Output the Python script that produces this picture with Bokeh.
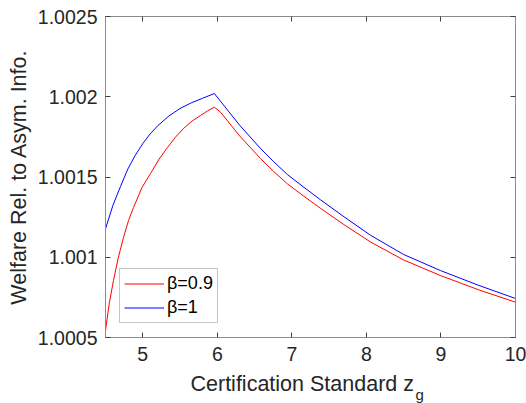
from bokeh.plotting import figure
from bokeh.models import (LinearAxis, FixedTicker, CustomJSTickFormatter, Range1d,
                          Legend, LegendItem, Title)
from bokeh.embed import file_html
from bokeh.resources import INLINE

# data
x_beta09 = [4.5, 4.55, 4.607, 4.67, 4.741, 4.81, 4.876, 4.99, 5.104, 5.22, 5.332, 5.44,
            5.546, 5.66, 5.774, 5.87, 5.96,
            6.043, 6.3, 6.579, 6.75, 6.941, 7.15, 7.384, 7.7, 8.055, 8.5, 8.994, 9.5, 10.0]
y_beta09 = [1.000544, 1.00071, 1.000855, 1.000994, 1.001123, 1.00123, 1.00131, 1.001435,
            1.001522, 1.001612, 1.001684, 1.001749, 1.001802, 1.001848, 1.001883, 1.001912,
            1.001935,
            1.001904, 1.001756, 1.001615, 1.001537, 1.001457, 1.001384, 1.001305, 1.001203,
            1.001095, 1.000983, 1.000886, 1.000798, 1.00072]
x_beta1 = [4.5, 4.6, 4.7, 4.8, 4.9, 5.0, 5.1, 5.2, 5.35, 5.5, 5.65, 5.8, 5.96,
           6.043, 6.3, 6.579, 6.75, 6.941, 7.15, 7.384, 7.7, 8.055, 8.5, 8.994, 9.5, 10.0]
y_beta1 = [1.001177, 1.001324, 1.00144, 1.00155, 1.001636, 1.001708, 1.001769, 1.001819,
           1.00188, 1.001927, 1.001962, 1.00199, 1.00202,
           1.001972, 1.001822, 1.001678, 1.001598, 1.001515, 1.00144, 1.001358, 1.001252,
           1.001137, 1.001017, 1.000917, 1.000826, 1.000743]
series_labels = ["β=0.9", "β=1"]
x_ticks = [5, 6, 7, 8, 9, 10]
y_ticks = [1.0005, 1.001, 1.0015, 1.002, 1.0025]

FONT = "Liberation Sans"
TXT = "#262626"
FRAME = "#8c8c8c"

p = figure(width=526, height=403, output_backend="svg", toolbar_location=None,
           x_range=Range1d(4.5, 10), y_range=Range1d(1.0005, 1.0025),
           min_border_left=105, min_border_right=11, min_border_top=16, min_border_bottom=66)
p.background_fill_color = "white"
p.border_fill_color = "white"
p.outline_line_color = FRAME
p.grid.visible = False

bottom = p.below[0]
left = p.left[0]
bottom.ticker = FixedTicker(ticks=x_ticks)
left.ticker = FixedTicker(ticks=y_ticks)
left.formatter = CustomJSTickFormatter(code="return String(parseFloat(tick.toFixed(5)));")

top = LinearAxis(ticker=FixedTicker(ticks=x_ticks))
right = LinearAxis(ticker=FixedTicker(ticks=y_ticks))
p.add_layout(top, "above")
p.add_layout(right, "right")

for ax in [bottom, left, top, right]:
    ax.axis_line_color = FRAME
    ax.major_tick_line_color = "#404040"
    ax.major_tick_in = 5
    ax.major_tick_out = 0
    ax.minor_tick_line_color = None
    ax.major_label_text_font = FONT
    ax.major_label_text_font_size = "19.5px"
    ax.major_label_text_color = TXT
    ax.axis_label_text_font = FONT
    ax.axis_label_text_font_size = "21.5px"
    ax.axis_label_text_color = TXT
    ax.axis_label_text_font_style = "normal"
    ax.major_label_standoff = 8

bottom.major_label_standoff = 9
for ax in [top, right]:
    ax.major_label_text_font_size = "0px"
    ax.major_label_standoff = 0

left.axis_label = "Welfare Rel. to Asym. Info."
left.axis_label_standoff = 4

r1 = p.line(x_beta09, y_beta09, line_color="#ff0000", line_width=1)
r2 = p.line(x_beta1, y_beta1, line_color="#0000ff", line_width=1)

legend = Legend(items=[LegendItem(label=series_labels[0], renderers=[r1]),
                       LegendItem(label=series_labels[1], renderers=[r2])],
                location=(14, 14), glyph_width=40, glyph_height=21, label_height=21,
                label_standoff=3, spacing=3, padding=4, margin=0,
                label_text_font=FONT, label_text_font_size="18px", label_text_color="#000000",
                border_line_color=FRAME, border_line_width=1, background_fill_color="white")
p.add_layout(legend, "center")

t1 = Title(text="Certification Standard z", align="left", offset=85, standoff=13,
           text_font=FONT, text_font_size="21.5px", text_color=TXT, text_font_style="normal")
t2 = Title(text="g", align="left", offset=310, standoff=-33, vertical_align="top",
           text_font=FONT, text_font_size="15px", text_color=TXT, text_font_style="normal")
p.add_layout(t1, "below")
p.add_layout(t2, "below")

open("out.html", "w").write(file_html(p, INLINE))
